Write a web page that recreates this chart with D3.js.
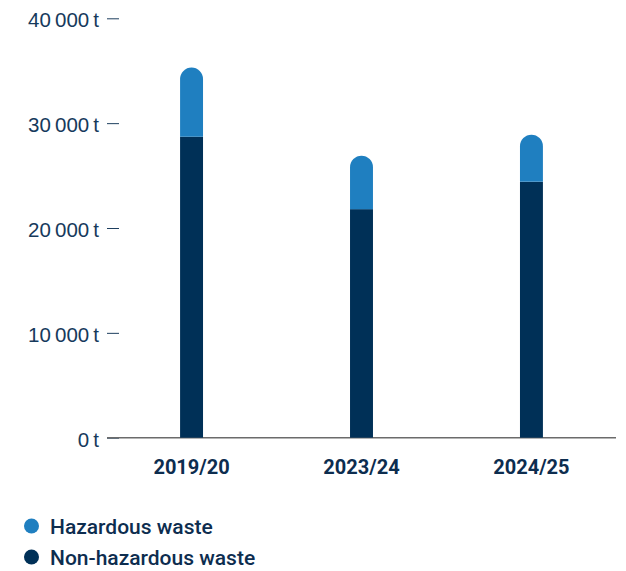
<!DOCTYPE html>
<html>
<head>
<meta charset="utf-8">
<script src="https://cdn.jsdelivr.net/npm/d3@7"></script>
<style>
  body { margin: 0; background: #fff; }
  svg { font-family: Roboto, "Noto Sans", sans-serif; }
</style>
</head>
<body>
<div id="chart"></div>
<script>
// waste by year, tonnes
var years = ["2019/20", "2023/24", "2024/25"];
var nonHazardous = [28700, 21800, 24400];
var hazardous = [6600, 5100, 4500];
var yTicks = [0, 10000, 20000, 30000, 40000];
var seriesNames = ["Hazardous waste", "Non-hazardous waste"];
var seriesColors = ["#1f7fc0", "#003057"];

var width = 626;
var height = 571;

var svg = d3.select("#chart")
    .append("svg")
    .attr("width", width)
    .attr("height", height);

var x = d3.scaleBand()
    .domain(years)
    .range([107, 616])
    .paddingInner(0.865)
    .paddingOuter(0.43);

var y = d3.scaleLinear()
    .domain([0, 40000])
    .range([437.7, 18.3]);

var fmt = function(d) { return d3.format(",")(d).replace(/,/g, "\u2009") + "\u2009t"; };

// y axis: labels and short dashes only
var yAxis = svg.append("g")
    .attr("transform", "translate(119,0)")
    .call(d3.axisLeft(y).tickValues(yTicks).tickFormat(fmt).tickSize(12).tickPadding(8));
yAxis.select(".domain").remove();
yAxis.selectAll(".tick line").attr("stroke", "#1e3f5f").attr("stroke-width", 1);
yAxis.selectAll(".tick text")
    .attr("fill", "#163a5c")
    .style("font-size", "20.5px")
    .attr("dy", "0.42em");

// baseline
svg.append("line")
    .attr("x1", 107)
    .attr("x2", 616)
    .attr("y1", y(0))
    .attr("y2", y(0))
    .attr("stroke", "#6b6b6b")
    .attr("stroke-width", 1.5);

var data = years.map(function(d, i) {
    return { year: d, non: nonHazardous[i], haz: hazardous[i] };
});

// non-hazardous part (bottom)
svg.append("g")
    .selectAll("rect")
    .data(data)
    .enter()
    .append("rect")
    .attr("x", function(d) { return x(d.year); })
    .attr("width", x.bandwidth())
    .attr("y", function(d) { return y(d.non); })
    .attr("height", function(d) { return y(0) - y(d.non); })
    .attr("fill", seriesColors[1]);

// hazardous part on top, with round cap
svg.append("g")
    .selectAll("path")
    .data(data)
    .enter()
    .append("path")
    .attr("d", function(d) {
        var x0 = x(d.year), w = x.bandwidth(), r = w / 2;
        var yb = y(d.non), yt = y(d.non + d.haz);
        return "M" + x0 + "," + yb +
            "L" + x0 + "," + (yt + r) +
            "A" + r + "," + r + " 0 0 1 " + (x0 + w) + "," + (yt + r) +
            "L" + (x0 + w) + "," + yb + "Z";
    })
    .attr("fill", seriesColors[0]);

// category labels
svg.append("g")
    .selectAll("text")
    .data(years)
    .enter()
    .append("text")
    .attr("x", function(d) { return x(d) + x.bandwidth() / 2; })
    .attr("y", 474)
    .attr("text-anchor", "middle")
    .attr("fill", "#0d2d4f")
    .style("font-size", "20px")
    .style("font-weight", 700)
    .text(function(d) { return d; });

// legend
var legend = svg.append("g")
    .selectAll("g")
    .data(seriesNames)
    .enter()
    .append("g")
    .attr("transform", function(d, i) { return "translate(31.5," + (526 + i * 31) + ")"; });

legend.append("circle")
    .attr("r", 7.5)
    .attr("fill", function(d, i) { return seriesColors[i]; });

legend.append("text")
    .attr("x", 18.5)
    .attr("dy", "0.36em")
    .attr("fill", "#0d2d4f")
    .style("font-size", "21px")
    .style("font-weight", 500)
    .text(function(d) { return d; });
</script>
</body>
</html>
